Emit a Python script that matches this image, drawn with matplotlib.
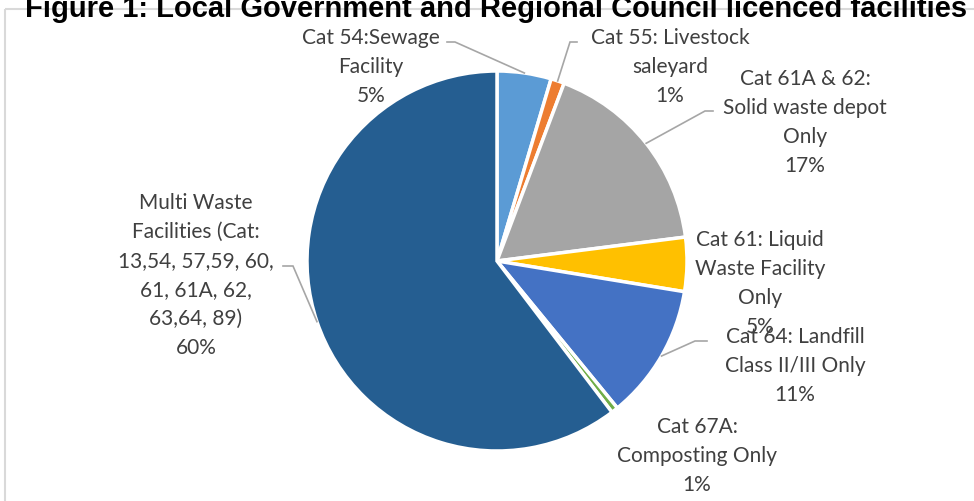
import numpy as np
import matplotlib.pyplot as plt
from matplotlib.patches import Rectangle

# data (facility counts)
categories = ['Cat 54:Sewage Facility', 'Cat 55: Livestock saleyard',
              'Cat 61A & 62: Solid waste depot Only',
              'Cat 61: Liquid Waste Facility Only',
              'Cat 64: Landfill Class II/III Only',
              'Cat 67A: Composting Only',
              'Multi Waste Facilities (Cat: 13,54, 57,59, 60, 61, 61A, 62, 63,64, 89)']
counts = [8, 2, 30, 8, 20, 1, 105]
colors = ['#5B9BD5', '#ED7D31', '#A5A5A5', '#FFC000', '#4472C4', '#70AD47', '#255E91']

# label line breaks as shown in the chart
label_lines = [
    ['Cat 54:Sewage', 'Facility'],
    ['Cat 55: Livestock', 'saleyard'],
    ['Cat 61A & 62:', 'Solid waste depot', 'Only'],
    ['Cat 61: Liquid', 'Waste Facility', 'Only'],
    ['Cat 64: Landfill', 'Class II/III Only'],
    ['Cat 67A:', 'Composting Only'],
    ['Multi Waste', 'Facilities (Cat:', '13,54, 57,59, 60,', '61, 61A, 62,', '63,64, 89)'],
]
# label placement (pixel centre x, first line y) and leader elbow
label_pos = [(371, 38), (670, 38), (805, 79), (760, 240), (795, 337), (697, 427), (196, 203)]
leaders = [((447, 43), (455, 43)), ((577, 43), (570, 43)), ((713, 112), (705, 112)),
           None, ((707, 342), (695, 342)), None, ((283, 267), (293, 267))]

W, H = 974, 502
fig = plt.figure(figsize=(W / 100, H / 100), dpi=100)
ax = fig.add_axes([0, 0, 1, 1])
ax.set_xlim(0, W)
ax.set_ylim(0, H)
ax.set_aspect('equal')
ax.axis('off')


def py(y):
    return H - y


cx, cy, r = 497, 262, 190
wedges, _ = ax.pie(counts, colors=colors, startangle=90, counterclock=False,
                   center=(cx, py(cy)), radius=r,
                   wedgeprops=dict(edgecolor='white', linewidth=2.5))
ax.set_xlim(0, W)
ax.set_ylim(0, H)

total = sum(counts)
txt_color = '#404040'
step = 29
for i, w in enumerate(wedges):
    pct = '%d%%' % round(counts[i] / total * 100)
    lines = label_lines[i] + [pct]
    x0, y0 = label_pos[i]
    for k, s in enumerate(lines):
        ax.text(x0, py(y0 + k * step), s, ha='center', va='center',
                fontsize=15, color=txt_color, family='Lato')
    if leaders[i] is not None:
        mid = np.deg2rad((w.theta1 + w.theta2) / 2)
        ex, ey = cx + r * np.cos(mid), py(cy) + r * np.sin(mid)
        (ax0, ay0), (ax1, ay1) = leaders[i]
        ax.plot([ax0, ax1, ex], [py(ay0), py(ay1), ey], color='#A6A6A6', lw=1.2,
                solid_joinstyle='miter')

ax.add_patch(Rectangle((5, py(10)), 1200, -600, fill=False, edgecolor='#D9D9D9', lw=1.5,
                       clip_on=False))
ax.text(496, py(17), 'Figure 1: Local Government and Regional Council licenced facilities',
        ha='center', va='baseline', fontsize=21, fontweight='bold',
        family='Liberation Sans', color='black')

fig.savefig('out.png', dpi=100)
